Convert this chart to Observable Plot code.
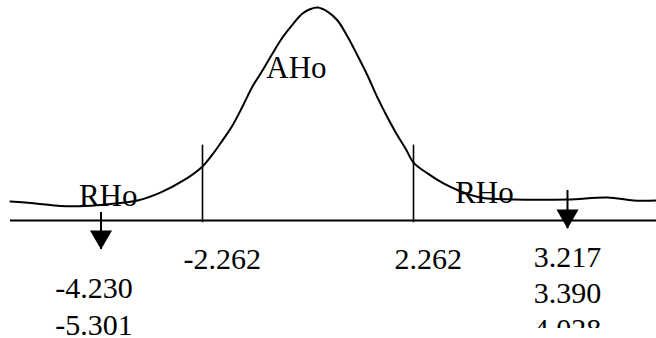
<!DOCTYPE html>
<html>
<head>
<meta charset="utf-8">
<script src="https://cdn.jsdelivr.net/npm/d3@7"></script>
<script src="https://cdn.jsdelivr.net/npm/@observablehq/plot@0.6"></script>
<style>
  html, body { margin: 0; padding: 0; background: #fff; }
  #chart svg text { font-family: "Liberation Serif", "Times New Roman", serif !important; }
</style>
</head>
<body>
<div id="chart"></div>
<script>
// Curve (t on a schematic axis, relative density with peak = 1)
const curveT = [-6.00, -5.51, -5.02, -4.53, -4.05, -3.52, -3.08, -2.63,
  -2.262, -2.048, -1.833, -1.619, -1.404, -1.190, -0.976, -0.761, -0.547, -0.332, -0.118, 0.054, 0.204,
  0.418, 0.633, 0.847, 1.061, 1.276, 1.490, 1.705, 1.919, 2.091,
  2.262, 2.349, 2.448, 2.541, 2.677, 2.882, 3.217, 4.063, 4.613, 5.10];
const curveDensity = [0.089, 0.080, 0.068, 0.068, 0.077, 0.094, 0.131, 0.188,
  0.254, 0.310, 0.376, 0.446, 0.535, 0.629, 0.704, 0.784, 0.859, 0.920, 0.972, 0.993, 1.000,
  0.981, 0.939, 0.864, 0.775, 0.681, 0.577, 0.484, 0.399, 0.338,
  0.272, 0.221, 0.174, 0.141, 0.108, 0.099, 0.099, 0.108, 0.094, 0.094];

// Critical values
const criticalValues = [-2.262, 2.262];
const criticalLabels = ["-2.262", "2.262"];

// Computed test statistics
const lowerStats = ["-4.230", "-5.301"];
const upperStats = ["3.217", "3.390", "4.028"];

// Region labels
const regionNames = ["RHo", "AHo", "RHo"];
const regionX = [-4.09, -0.247, 2.702];
const regionY = [0.070, 0.671, 0.080];

// Arrows (test statistic markers)
const arrowX = [+lowerStats[0], +upperStats[0]];
const arrowTop = [0.038, 0.141];
const arrowTip = [-0.136, -0.038];

const curve = curveT.map((t, i) => ({t, d: curveDensity[i]}));
const crit = criticalValues.map((v, i) => ({v, label: criticalLabels[i]}));
const regions = regionNames.map((name, i) => ({name, x: regionX[i], y: regionY[i]}));
const arrows = arrowX.map((x, i) => ({x, top: arrowTop[i], tip: arrowTip[i]}));
const groups = [
  {x: arrowX[0], text: lowerStats.join("\n")},
  {x: arrowX[1], text: upperStats.join("\n")}
];

const xMin = curveT[0], xMax = curveT[curveT.length - 1];
const serif = "Liberation Serif";

// schematic (not-to-scale) horizontal axis: piecewise stretch between the marked values
const schematic = d3.scaleLinear()
  .domain([xMin, arrowX[0], criticalValues[0], criticalValues[1], arrowX[1], xMax])
  .range([10, 100.5, 202, 413, 567, 656]);

const chart = Plot.plot({
  width: 656,
  height: 338,
  marginTop: 0,
  marginLeft: 0,
  marginRight: 0,
  marginBottom: 10,
  style: {background: "#fff", color: "#000"},
  x: {axis: null, transform: (t) => schematic(t), domain: [0, 656], range: [0, 656]},
  y: {axis: null, domain: [0, 1], range: [220, 7]},
  marks: [
    Plot.ruleY([0], {x1: xMin, x2: xMax, stroke: "#000", strokeWidth: 2}),
    Plot.ruleX(crit, {x: "v", y1: -0.01, y2: 0.354, stroke: "#000", strokeWidth: 1.6}),
    Plot.line(curve, {x: "t", y: "d", curve: "catmull-rom", stroke: "#000", strokeWidth: 2}),
    Plot.ruleX(arrows, {x: "x", y1: "top", y2: "tip", stroke: "#000", strokeWidth: 2}),
    Plot.dot(arrows, {x: "x", y: "tip", dy: -12.7, symbol: "triangle", r: 8.2, rotate: 180, fill: "#000", stroke: null}),
    Plot.text(regions, {x: "x", y: "y", text: "name", lineAnchor: "bottom", fontSize: 31, fontFamily: serif, fill: "#000"}),
    Plot.text(crit, {x: "v", y: 0, text: "label", textAnchor: "start", dx: -19, dy: 38.4, fontSize: 30, fontFamily: serif, fill: "#000"}),
    Plot.text([groups[0]], {x: "x", y: 0, text: "text", lineAnchor: "top", lineHeight: 1.267, dx: -7, dy: 50, fontSize: 30, fontFamily: serif, fill: "#000"}),
    Plot.text([groups[1]], {x: "x", y: 0, text: "text", lineAnchor: "top", lineHeight: 1.2, dy: 21.4, fontSize: 30, fontFamily: serif, fill: "#000", clip: true})
  ]
});
document.getElementById("chart").appendChild(chart);
</script>
</body>
</html>
